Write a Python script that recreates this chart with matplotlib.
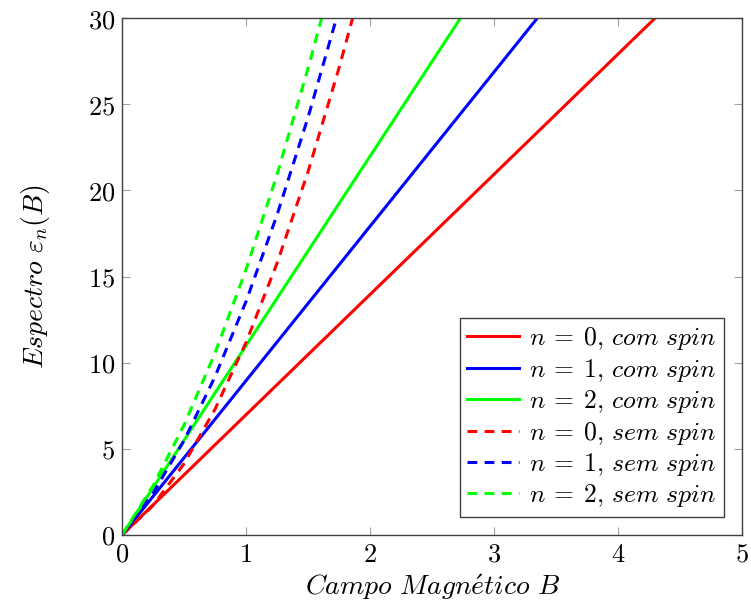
import matplotlib
matplotlib.use("Agg")
from matplotlib import pyplot as plt

plt.rcParams['mathtext.fontset'] = 'cm'
plt.rcParams['font.family'] = 'serif'
plt.rcParams['font.serif'] = ['DejaVu Serif']

# spectrum with spin (straight lines from the origin)
B_com = {0: [0.0, 4.30], 1: [0.0, 3.35], 2: [0.0, 2.73]}
E_com = {0: [0.0, 30.0], 1: [0.0, 30.0], 2: [0.0, 30.0]}

# spectrum without spin (bends upward)
B_sem = {
    0: [0.0, 0.25, 0.5, 0.75, 1.0, 1.25, 1.5, 1.75, 1.86],
    1: [0.0, 0.25, 0.5, 0.75, 1.0, 1.25, 1.5, 1.73],
    2: [0.0, 0.25, 0.5, 0.75, 1.0, 1.25, 1.5, 1.61],
}
E_sem = {
    0: [0.0, 1.71, 4.14, 7.30, 11.17, 15.77, 21.08, 27.10, 30.0],
    1: [0.0, 2.42, 5.48, 9.19, 13.55, 18.57, 24.23, 30.0],
    2: [0.0, 2.86, 6.38, 10.56, 15.40, 20.91, 27.08, 30.0],
}

colors = {0: '#ff0000', 1: '#0000ff', 2: '#00ff00'}
xticks = [0, 1, 2, 3, 4, 5]
yticks = [0, 5, 10, 15, 20, 25, 30]

fig = plt.figure(figsize=(7.51, 6.11), dpi=100)
ax = fig.add_axes([0.1625, 0.1244, 0.8255, 0.8461])

for n in range(3):
    ax.plot(B_com[n], E_com[n], color=colors[n], lw=2.2,
            label=r'$n\:=\:%d,\,com\ spin$' % n)
for n in range(3):
    ax.plot(B_sem[n], E_sem[n], color=colors[n], lw=2.2, dashes=(3.2, 2.4),
            label=r'$n\:=\:%d,\,sem\ spin$' % n)

ax.set_xlim(0, 5)
ax.set_ylim(0, 30)
ax.set_xticks(xticks)
ax.set_yticks(yticks)
ax.set_xticklabels(['$%d$' % v for v in xticks], fontsize=19)
ax.set_yticklabels(['$%d$' % v for v in yticks], fontsize=19)
ax.tick_params(direction='in', length=6, width=0.8, color='#a0a0a0',
               top=True, right=True, pad=5)
for s in ax.spines.values():
    s.set_color('#404040')
    s.set_linewidth(1.0)

ax.set_xlabel(r'$Campo\ Magn\acute{e}tico\ B$', fontsize=20, labelpad=4)
ax.set_ylabel(r'$Espectro\ \varepsilon_n(B)$', fontsize=20, labelpad=26)

leg = ax.legend(loc='lower right', fontsize=18.5, fancybox=False, framealpha=1,
                edgecolor='#404040', handlelength=2.0, handletextpad=0.4,
                borderaxespad=0.7, labelspacing=0.17, borderpad=0.3)
leg.get_frame().set_linewidth(1.0)

fig.savefig('out.png', dpi=100)
